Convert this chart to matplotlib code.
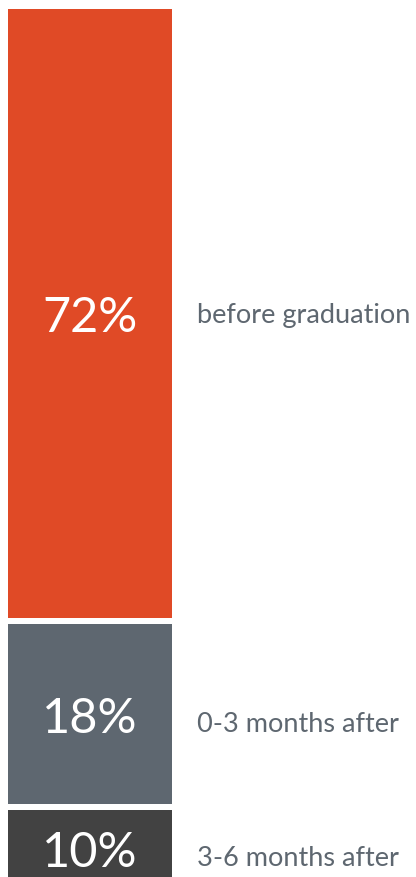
import matplotlib.pyplot as plt

values = [72, 18, 10]
pct_labels = ["72%", "18%", "10%"]
names = ["before graduation", "0-3 months after", "3-6 months after"]
colors = ["#e04a26", "#5e6770", "#424242"]

fig = plt.figure(figsize=(4.16, 8.78), dpi=100)
ax = fig.add_axes([0, 0, 1, 1])
ax.set_xlim(0, 416)
ax.set_ylim(878, 0)
ax.axis("off")

px_per_pct = 7.94
pad = 37
gap = 6
top = 10
for v, lab, name, c in zip(values, pct_labels, names, colors):
    h = v * px_per_pct + pad
    ax.bar(90, h, width=164, bottom=top, color=c, linewidth=0)
    # last segment runs off the bottom, keep its label in view
    if top + h <= 878:
        cy = top + h / 2
    else:
        cy = top + 38
    ax.text(90, cy + 18, lab, color="white", fontsize=35, family="Lato",
            ha="center", va="baseline")
    # names are centred on their ink, so ones with a descender sit higher
    off = 9 if any(ch in "gjpqy" for ch in name) else 17
    ax.text(197, cy + off, name, color="#5e6770", fontsize=19.5, family="Lato",
            ha="left", va="baseline")
    top += h + gap

fig.savefig("out.png", dpi=100)
